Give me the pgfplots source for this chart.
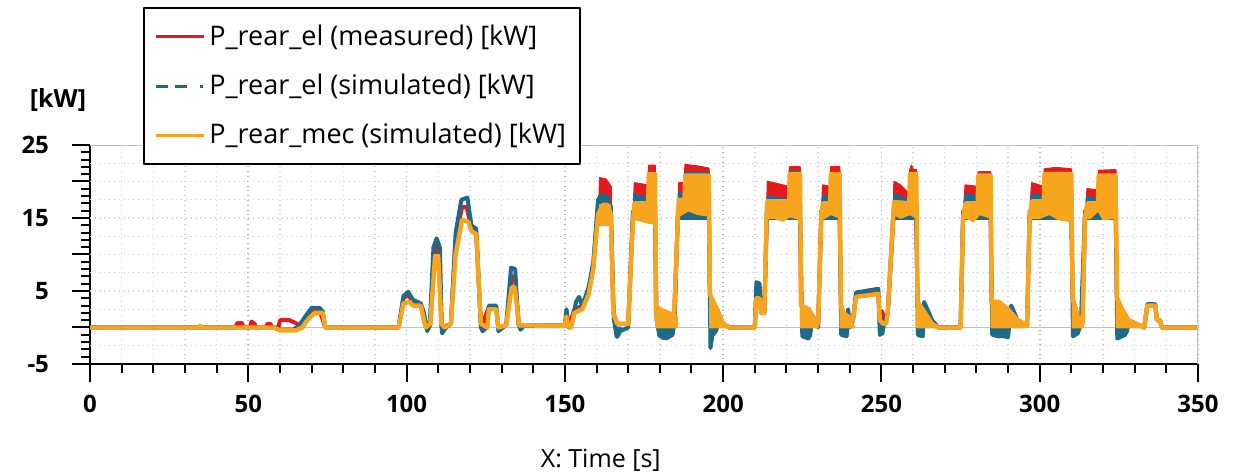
\documentclass[border=0pt]{standalone}
\usepackage{pgfplots}
\pgfplotsset{compat=1.18}
\usepackage{fontspec}
\setmainfont{Open Sans}
\definecolor{mred}{HTML}{E41A1C}
\definecolor{mblue}{HTML}{1D6A8A}
\definecolor{morange}{HTML}{F7A51E}
\begin{document}
\begin{tikzpicture}
\useasboundingbox (-45pt,-55.5pt) rectangle (572pt,182pt);
\begin{axis}[
  scale only axis, width=554pt, height=109.5pt,
  xmin=0, xmax=350, ymin=-5, ymax=25,
  axis lines=left, axis line style={-, line width=1.1pt},
  xtick={0,50,...,350}, minor x tick num=4,
  ytick={-5,0,...,25}, yticklabels={-5,,5,,15,,25}, minor y tick num=4,
  tick align=outside, major tick length=9pt, minor tick length=4.5pt,
  tick style={black, line width=1pt},
  xmajorgrids, xminorgrids,
  major x grid style={gray!60, dotted, line width=0.8pt},
  minor x grid style={gray!35, dotted, line width=0.7pt},
  extra y ticks={-2.5,0,2.5,...,22.5}, extra y tick labels={},
  extra y tick style={grid=major, major tick length=0pt, major grid style={gray!35, dotted, line width=0.7pt}},
  /pgf/number format/assume math mode=true,
  tick label style={font=\fontsize{12}{14}\selectfont\bfseries},
  xticklabel style={yshift=-3pt},
  yticklabel style={xshift=-8pt},
  every axis x label/.style={at={(rel axis cs:0.461,0)}, anchor=center, yshift=-48pt},
  every axis y label/.style={at={(rel axis cs:0.0,1.205)}, anchor=center, xshift=-16pt},
  xlabel={\fontsize{12.5}{14}\selectfont X: Time [s]},
  ylabel={\fontsize{12.5}{14}\selectfont\bfseries [kW]},
  legend style={draw=black, line width=1.1pt, fill=white, at={(rel axis cs:0.048,1.63)}, anchor=north west,
    font=\fontsize{13.5}{15}\selectfont, row sep=8.8pt, inner xsep=5pt, inner ysep=6.5pt, legend cell align=left},
  legend image code/.code={\draw[#1] (0pt,0pt) -- (24pt,0pt);},
  line join=round,
]
\addlegendimage{mred, line width=1.5pt}
\addlegendentry{P\_rear\_el (measured) [kW]}
\addlegendimage{mblue, line width=1.5pt, dash pattern=on 6pt off 3.5pt on 6pt off 6.5pt on 1.5pt off 10pt}
\addlegendentry{P\_rear\_el (simulated) [kW]}
\addlegendimage{morange, line width=1.5pt}
\addlegendentry{P\_rear\_mec (simulated) [kW]}

\addplot[forget plot, gray!50, line width=0.8pt] coordinates {(0,0)(350,0)};

% measured (red)
\addplot[forget plot, mred, line width=2pt] coordinates {(0,0)(46,0)(46.5,0.6)(48,0.6)(48.5,0)(50.5,0)(51,0.8)(52,0.5)(52.5,0)(55.5,0)(56,0.5)(57,0.5)(57.5,0)(59.5,0)(60,1)(63,1)(65.5,0.5)(66.5,0.3)(68,1.2)(70,2.4)(72.5,2.4)(74.3,0)(97.5,0)(99,4)(100.5,4.5)(102,3.5)(104.5,3.1)(106,0)(107.5,0.3)(109,11)(110,11)(111,0)(114,0.5)(115.5,12)(117.5,16.5)(119,16.5)(120.5,13.5)(122,13)(123.5,0)(126,2.8)(128.3,2.8)(129,0)(131.5,0.3)(133.2,7)(134.2,7)(135.5,0.3)(150,0.3)(150.5,2)(151.2,0)(153,2.5)(155.5,3)(157.5,5)(159,8.5)(160.5,17)(162,17)(164.5,16)(165.3,2)(166.5,0.5)(170,0.5)(171.5,15)(178.5,15)(178.8,1.5)(184.5,1.5)(185.7,15)(195.5,15)(195.8,4.5)(198,2.5)(200,0.5)(202,0)(210,0)(210.5,4.5)(211.5,4.5)(212,2)(213,2)(213.8,15)(224.3,15)(224.6,3)(227,2.5)(229,1)(230,0.5)(231,15)(236.8,15)(237.2,3)(238,2)(241,1)(242,4.5)(249,4.8)(249.5,1)(250.3,2.2)(250.8,0.5)(252,2)(253.8,15)(261,15)(261.4,3.5)(263,2.5)(266,0.5)(268,0)(275,0)(275.8,15)(284.5,15)(284.8,3.5)(287,3.5)(290,2.5)(293,1)(296,0.3)(296.8,15)(310,15)(310.4,4)(312,1.5)(313.5,0.5)(314.3,15)(324,15)(324.4,4)(326,2.5)(328,1)(333,0)(334,3)(336.5,3)(337,1)(338,1)(338.5,0)(350,0)};
\addplot[forget plot, draw=mred, fill=mred, line width=0.8pt] coordinates {(160.8,15)(161,20.5)(163,20.3)(164.6,19.3)(164.8,15)} --cycle;
\addplot[forget plot, draw=mred, fill=mred, line width=0.8pt] coordinates {(171.5,15)(172,19.8)(176.3,19.5)(176.5,22.2)(178.5,22.2)(178.7,15)} --cycle;
\addplot[forget plot, draw=mred, fill=mred, line width=0.8pt] coordinates {(185.7,15)(186,19.8)(187.8,19.8)(188,22.3)(192,22.1)(195.5,21.8)(195.7,15)} --cycle;
\addplot[forget plot, draw=mred, fill=mred, line width=0.8pt] coordinates {(213.8,15)(214,20)(220.8,19.3)(221,22)(224.3,22)(224.5,15)} --cycle;
\addplot[forget plot, draw=mred, fill=mred, line width=0.8pt] coordinates {(231,15)(231.5,19.5)(233.8,19.3)(234,22)(236.8,22)(237,15)} --cycle;
\addplot[forget plot, draw=mred, fill=mred, line width=0.8pt] coordinates {(253.8,15)(254,20)(256,19.5)(258.8,18.3)(259,21.6)(259.5,22.2)(260,21.6)(261,21.6)(261.2,15)} --cycle;
\addplot[forget plot, draw=mred, fill=mred, line width=0.8pt] coordinates {(275.8,15)(276.5,19.5)(280.4,19.3)(280.6,21.3)(284.5,21.3)(284.7,15)} --cycle;
\addplot[forget plot, draw=mred, fill=mred, line width=0.8pt] coordinates {(296.8,15)(297.5,19.8)(301.3,19.3)(301.5,21.7)(305,21.9)(310,21.7)(310.3,15)} --cycle;
\addplot[forget plot, draw=mred, fill=mred, line width=0.8pt] coordinates {(314.3,15)(315,19)(318.4,18.8)(318.6,21.5)(324,21.6)(324.2,15)} --cycle;

% simulated electric (blue)
\addplot[forget plot, mblue, line width=2pt] coordinates {(0,0)(58,0)(60,-0.3)(64,-0.3)(66,0.2)(68,1.5)(70,2.7)(72.5,2.7)(73.5,2.2)(74.3,0)(97.5,0)(99,4.3)(100.5,4.9)(102,3.8)(104.5,3.3)(105.5,2)(106.5,-0.5)(107.3,0.2)(108.5,11)(109.5,12.2)(110.5,11)(111.2,-0.8)(112.5,0)(114,0.5)(115.5,13)(117.3,17.5)(119.2,17.8)(120.5,14)(122,13.5)(123.5,0)(124,-0.5)(125.3,0)(126,3)(128.3,3)(129,-0.5)(130.5,0)(131.5,0.5)(133,8.2)(134.3,8)(135.3,0.5)(136,-0.3)(137,0.2)(150,0.2)(150.5,2.5)(151.3,0)(152.5,1)(153.5,3.5)(154.5,4.2)(155.5,3)(157.5,5.5)(159,9)(160.5,17.5)(161.5,18.2)(163.5,17.8)(164.5,16.5)(165.5,1)(166.5,-1.3)(167.5,-0.5)(170,0)(171.5,16)(178.5,16)(179,1)(180,-1)(182,-1.5)(184,-1)(184.7,1)(185.7,16)(195.5,16)(196,-2.8)(196.6,-1)(198,1.5)(200,0.5)(202,0)(210,0)(210.5,6.2)(211.5,6)(212,2)(213,2)(213.8,16)(224.3,16)(225,-1.2)(227,-1.5)(228,1)(229.5,1)(230,0)(231,16)(236.8,16)(237.3,-1)(239,-1.2)(239.5,2.5)(240,0)(241,1)(242,4.8)(249,5.3)(249.5,-1)(250.3,-0.8)(251,1)(252,2)(253.8,16)(261,16)(261.5,-1)(263,-1.2)(263.5,3.5)(266,1)(268,0)(275,0)(275.8,16)(284.5,16)(285,-1)(290,-1.3)(291,3)(293,1)(296,0.3)(296.8,16)(310,16)(310.5,-1.2)(312,-0.8)(313,0.5)(314.3,16)(324,16)(324.5,-1.5)(327,-1)(328,1)(333,0)(334,3.2)(336.5,3.2)(337,1)(338,1)(338.5,0)(350,0)};
\addplot[forget plot, draw=mblue, fill=mblue, line width=0.8pt] coordinates {(160.8,15)(161,18.3)(163.5,17.8)(164.5,16.5)(164.6,15)} --cycle;
\addplot[forget plot, draw=mblue, fill=mblue, line width=0.8pt] coordinates {(171.5,15)(172,18.2)(176.3,17.8)(176.5,21.3)(178.5,21.3)(178.7,15)} --cycle;
\addplot[forget plot, draw=mblue, fill=mblue, line width=0.8pt] coordinates {(185.7,15)(186,18.5)(187.8,18.5)(188,21.3)(195.5,21.2)(195.7,15)} --cycle;
\addplot[forget plot, draw=mblue, fill=mblue, line width=0.8pt] coordinates {(213.8,15)(214,18)(220.8,17.5)(221,21.4)(224.3,21.4)(224.5,15)} --cycle;
\addplot[forget plot, draw=mblue, fill=mblue, line width=0.8pt] coordinates {(231,15)(231.5,18)(233.8,17.8)(234,21.3)(236.8,21.3)(237,15)} --cycle;
\addplot[forget plot, draw=mblue, fill=mblue, line width=0.8pt] coordinates {(253.8,15)(254,18.3)(258.8,17.5)(259,21.3)(261,21.3)(261.2,15)} --cycle;
\addplot[forget plot, draw=mblue, fill=mblue, line width=0.8pt] coordinates {(275.8,15)(276.5,18.3)(280.4,18)(280.6,21)(284.5,21)(284.7,15)} --cycle;
\addplot[forget plot, draw=mblue, fill=mblue, line width=0.8pt] coordinates {(296.8,15)(297.5,18.3)(301.3,18)(301.5,21.3)(310,21.3)(310.3,15)} --cycle;
\addplot[forget plot, draw=mblue, fill=mblue, line width=0.8pt] coordinates {(314.3,15)(315,18)(318.4,17.5)(318.6,21)(324,21)(324.2,15)} --cycle;
% negative excursions of the simulated electric power
\addplot[forget plot, draw=mblue, fill=mblue, line width=0.8pt] coordinates {(165.6,0)(166,-1.3)(167.3,-1)(167.7,0)} --cycle;
\addplot[forget plot, draw=mblue, fill=mblue, line width=0.8pt] coordinates {(179,0)(179.5,-1.2)(181,-1.6)(183,-1.4)(184.3,-0.8)(184.6,0)} --cycle;
\addplot[forget plot, draw=mblue, fill=mblue, line width=0.8pt] coordinates {(195.8,0)(196,-2.8)(196.8,-1.2)(198,-0.6)(198.5,0)} --cycle;
\addplot[forget plot, draw=mblue, fill=mblue, line width=0.8pt] coordinates {(224.6,0)(225,-1.3)(226.5,-1.5)(227.8,-1.2)(228.2,0)} --cycle;
\addplot[forget plot, draw=mblue, fill=mblue, line width=0.8pt] coordinates {(237.2,0)(237.6,-1)(239.3,-1.2)(239.6,0)} --cycle;
\addplot[forget plot, draw=mblue, fill=mblue, line width=0.8pt] coordinates {(261.4,0)(261.8,-1.2)(263.3,-1.3)(263.6,0)} --cycle;
\addplot[forget plot, draw=mblue, fill=mblue, line width=0.8pt] coordinates {(285,0)(285.4,-1.2)(287,-1.4)(290,-1.1)(290.5,0)} --cycle;
\addplot[forget plot, draw=mblue, fill=mblue, line width=0.8pt] coordinates {(310.5,0)(310.8,-1.3)(312.3,-0.8)(312.7,0)} --cycle;
\addplot[forget plot, draw=mblue, fill=mblue, line width=0.8pt] coordinates {(324.4,0)(324.8,-1.5)(326.5,-1.2)(327.8,-0.7)(328.2,0)} --cycle;

% simulated mechanical (orange)
\addplot[forget plot, draw=morange, fill=morange, line width=0.8pt] coordinates {(160.8,14)(161,16.8)(164.3,16.8)(164.6,14)} --cycle;
\addplot[forget plot, draw=morange, fill=morange, line width=0.8pt] coordinates {(171.5,14.5)(172,17)(176.3,17)(176.5,21)(178.5,21)(178.7,14.2)(176.5,14.3)(174,14.6)(172,14.8)} --cycle;
\addplot[forget plot, draw=morange, fill=morange, line width=0.8pt] coordinates {(185.7,15)(186,17.5)(187.8,17.5)(188,20.8)(191,20.8)(195.5,20.5)(195.7,15.3)(192,15.5)(189,16)(187,15.5)(186,15.2)} --cycle;
\addplot[forget plot, draw=morange, fill=morange, line width=0.8pt] coordinates {(213.8,14.8)(214,17.3)(220.8,17.3)(221,21)(224.3,21)(224.5,14.8)(221,15.2)(219,14.6)(216,15)(214,15)} --cycle;
\addplot[forget plot, draw=morange, fill=morange, line width=0.8pt] coordinates {(231,15)(231.5,17)(233.8,17)(234,21)(236.8,21)(237,15)(234,15.5)(232,15)} --cycle;
\addplot[forget plot, draw=morange, fill=morange, line width=0.8pt] coordinates {(253.8,15)(254,17.2)(258.8,17)(259,21)(261,21)(261.2,15)(259,15.5)(256,15)(254,15.5)} --cycle;
\addplot[forget plot, draw=morange, fill=morange, line width=0.8pt] coordinates {(275.8,15)(276.5,17)(280.4,17)(280.6,20.8)(284.5,20.8)(284.7,15)(281,15.5)(279,14.5)(277,15)} --cycle;
\addplot[forget plot, draw=morange, fill=morange, line width=0.8pt] coordinates {(296.8,15)(297.5,17.3)(301.3,17.3)(301.5,21)(310,21)(310.3,14.5)(306,14.8)(303,15.5)(300,15)(298,15)} --cycle;
\addplot[forget plot, draw=morange, fill=morange, line width=0.8pt] coordinates {(314.3,15)(315,17)(318.4,17)(318.6,20.8)(324,20.8)(324.2,15)(320,14.8)(318.5,16)(316,15)} --cycle;
% residual power after each plateau
\addplot[forget plot, draw=morange, fill=morange, line width=0.8pt] coordinates {(178.8,0)(178.8,3)(181,2.5)(184,2)(185.5,1.5)(185.5,0)} --cycle;
\addplot[forget plot, draw=morange, fill=morange, line width=0.8pt] coordinates {(195.8,0)(195.8,4.5)(197.5,3)(199,1.5)(201,0.3)(201,0)} --cycle;
\addplot[forget plot, draw=morange, fill=morange, line width=0.8pt] coordinates {(224.5,0)(224.5,3.5)(226,2.5)(228,1.8)(230,0.8)(230,0)} --cycle;
\addplot[forget plot, draw=morange, fill=morange, line width=0.8pt] coordinates {(237,0)(237,3)(238.5,1.5)(240.5,1)(241.5,0)} --cycle;
\addplot[forget plot, draw=morange, fill=morange, line width=0.8pt] coordinates {(261.2,0)(261.2,3.5)(263,2.5)(265,1.2)(267,0.3)(267,0)} --cycle;
\addplot[forget plot, draw=morange, fill=morange, line width=0.8pt] coordinates {(284.7,0)(284.7,3.5)(286,3.5)(288,3)(290,2)(293,0.8)(295.5,0.3)(295.5,0)} --cycle;
\addplot[forget plot, draw=morange, fill=morange, line width=0.8pt] coordinates {(310.3,0)(310.3,4)(312,1.5)(313.8,0.5)(313.8,0)} --cycle;
\addplot[forget plot, draw=morange, fill=morange, line width=0.8pt] coordinates {(324.2,0)(324.2,4)(326,2.5)(328,1)(330,0.5)(333,0.2)(333,0)} --cycle;
\addplot[forget plot, morange, line width=2.2pt] coordinates {(0,0)(34,0)(34.8,0.2)(35.6,0)(58,0)(60,-0.4)(65,-0.4)(67,0)(69,1.2)(71,2)(73.5,2)(74.3,0)(97.5,0)(99,3.3)(101,3.5)(102,3)(104.5,3)(106,0)(107.5,0.5)(109,9.8)(110,9.8)(111,0.5)(112,0)(114,0.5)(115.5,10)(117.5,14.7)(119.5,14.5)(120.5,13.2)(122,12.8)(123.5,0.5)(125.5,0)(126,2.5)(128.3,2.5)(129,0)(131.5,0.3)(133.2,5.5)(134.2,5.5)(135.5,0.3)(150,0.2)(150.5,1.5)(151.2,0)(152,0)(153,2)(155.5,2.5)(157.5,4.5)(159,8)(160.5,15.5)(162,16.8)(163.5,16.8)(164.5,15.5)(165.3,2)(166.5,0.5)(170,0.5)(171.5,14.5)(172,17)(176.3,17)(176.5,21)(178.5,21)(178.8,1.5)(184.5,1.5)(185.7,15)(186,17.5)(187.8,17.5)(188,20.8)(195.5,20.8)(195.8,4.5)(198,2.5)(200,0.5)(202,0)(210,0)(210.5,4)(211.5,4)(212,2)(213,2)(213.8,16.5)(214,17.3)(220.8,17.3)(221,21)(224.3,21)(224.6,3)(227,2.5)(229,1)(230,0.5)(231,15.5)(231.5,17)(233.8,17)(234,21)(236.8,21)(237.2,3)(238,2)(241,1)(242,4.2)(249,4.6)(249.5,1)(250.5,0.5)(251.5,0.5)(252,2)(253.8,16)(254,17.2)(258.8,17)(259,21)(261,21)(261.4,3.5)(263,2.5)(266,0.5)(268,0)(275,0)(275.8,15)(276.5,17)(280.4,17)(280.6,20.8)(284.5,20.8)(284.8,3.5)(287,3.5)(290,2.5)(293,1)(296,0.3)(296.8,15)(297.5,17.3)(301.3,17.3)(301.5,21)(310,21)(310.4,4)(312,1.5)(313.5,0.5)(314.3,15)(315,17)(318.4,17)(318.6,20.8)(324,20.8)(324.4,4)(326,2.5)(328,1)(333,0)(334,3)(336.5,3)(337,1)(338,1)(338.5,0)(350,0)};

\draw[gray!50, line width=0.8pt] (rel axis cs:0,1) -- (rel axis cs:1,1) -- (rel axis cs:1,0);
\end{axis}
\end{tikzpicture}
\end{document}
